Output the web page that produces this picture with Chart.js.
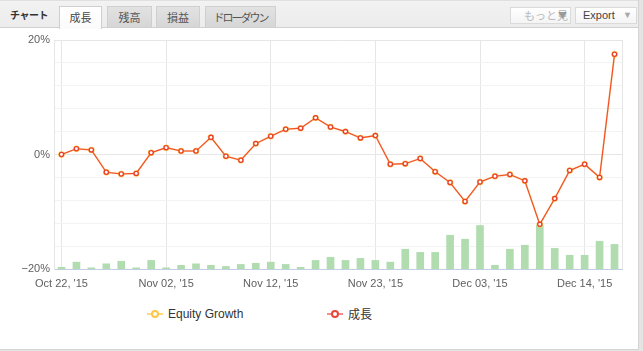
<!DOCTYPE html>
<html><head><meta charset="utf-8">
<script src="https://cdn.jsdelivr.net/npm/chart.js@4.4.1/dist/chart.umd.min.js"></script>
<style>
html,body{margin:0;padding:0;}
body{width:643px;height:351px;position:relative;overflow:hidden;background:#e4e4e4;font-family:"Liberation Sans",Arial,sans-serif;}
#frame{position:absolute;left:0;top:0;width:638px;height:349px;background:#fff;border-right:1px solid #d4d4d4;border-bottom:1px solid #d4d4d4;}
#head{position:absolute;left:0;top:0;width:638px;height:26px;background:linear-gradient(#f2f2f2,#ececec);border-top:1px solid #e0e0e0;border-bottom:1px solid #d0d0d0;}
.jp{font-family:"Noto Sans CJK JP","Noto Sans",sans-serif;}
#title{position:absolute;left:10px;top:6px;font-size:10px;font-weight:bold;color:#333;letter-spacing:-0.5px;line-height:16px;}
.tab{position:absolute;top:5px;height:21px;box-sizing:border-box;border:1px solid #cfcfcf;border-bottom:none;background:linear-gradient(#e2e2e2,#d6d6d6);color:#555;font-size:11px;line-height:20px;text-align:center;}
.tab.active{background:linear-gradient(#ffffff,#fbfbfb);height:23px;color:#444;}
.btn{position:absolute;top:6px;height:17px;box-sizing:border-box;border:1px solid #dadada;background:linear-gradient(#ffffff,#f4f4f4);font-size:11px;line-height:15px;}
#wrap{position:absolute;left:0;top:28px;width:638px;height:272px;}
.leg{position:absolute;top:306px;height:16px;font-size:12px;line-height:16px;color:#333;}
.lline{position:absolute;top:7px;width:16px;height:2px;}
.ldot{position:absolute;top:4px;width:4px;height:4px;border-radius:50%;background:#fff;border:2px solid;}
</style></head>
<body>
<div id="frame">
  <div id="head">
    <div id="title" class="jp">チャート</div>
    <div class="tab active jp" style="left:59px;width:43px;">成長</div>
    <div class="tab jp" style="left:107px;width:45px;">残高</div>
    <div class="tab jp" style="left:156px;width:44px;">損益</div>
    <div class="tab jp" style="left:205px;width:71px;letter-spacing:-2px;">ドローダウン</div>
    <div class="btn jp" style="left:510px;width:61px;color:#b8b8b8;padding-left:13px;">もっと見<span style="position:absolute;left:47px;top:0;color:#9a9a9a;font-size:9px;">▼</span></div>
    <div class="btn" style="left:575px;width:62px;color:#444;padding-left:7px;">Export<span style="position:absolute;left:47px;top:0;color:#a8a8a8;font-size:9px;">▼</span></div>
  </div>
  <div id="wrap"><canvas id="c" width="638" height="272"></canvas></div>
  <div class="leg" style="left:147px;width:110px;">
    <div class="lline" style="left:0;background:#ffd97a;"></div>
    <div class="ldot" style="left:4px;border-color:#ffc64a;"></div>
    <span style="position:absolute;left:21px;">Equity Growth</span>
  </div>
  <div class="leg" style="left:327px;width:60px;">
    <div class="lline" style="left:0;background:#f48c8c;"></div>
    <div class="ldot" style="left:4px;border-color:#e8463a;"></div>
    <span class="jp" style="position:absolute;left:21px;">成長</span>
  </div>
</div>
<script>
const dates = ["Oct 22, '15","Oct 23, '15","Oct 26, '15","Oct 27, '15","Oct 28, '15","Oct 29, '15","Oct 30, '15",
  "Nov 02, '15","Nov 03, '15","Nov 04, '15","Nov 05, '15","Nov 06, '15","Nov 09, '15","Nov 10, '15",
  "Nov 12, '15","Nov 13, '15","Nov 16, '15","Nov 17, '15","Nov 18, '15","Nov 19, '15","Nov 20, '15",
  "Nov 23, '15","Nov 24, '15","Nov 25, '15","Nov 26, '15","Nov 27, '15","Nov 30, '15","Dec 01, '15",
  "Dec 03, '15","Dec 04, '15","Dec 07, '15","Dec 08, '15","Dec 09, '15","Dec 10, '15","Dec 11, '15",
  "Dec 14, '15","Dec 15, '15","Dec 16, '15"];
const tickDates = ["Oct 22, '15","Nov 02, '15","Nov 12, '15","Nov 23, '15","Dec 03, '15","Dec 14, '15"];
const growth = [0.0,1.0,0.8,-3.1,-3.4,-3.3,0.3,1.2,0.6,0.6,3.0,-0.3,-1.0,1.9,3.2,4.4,4.6,6.4,4.8,4.0,2.9,3.3,
  -1.7,-1.6,-0.7,-3.0,-4.9,-8.2,-4.8,-3.8,-3.5,-4.6,-12.2,-7.7,-2.8,-1.7,-4.0,17.5];
const equityGrowth = [0.0,1.0,0.8,-3.1,-3.4,-3.3,0.3,1.2,0.6,0.6,3.0,-0.3,-1.0,1.9,3.2,4.4,4.6,6.4,4.8,4.0,2.9,3.3,
  -1.7,-1.6,-0.7,-3.0,-4.9,-8.2,-4.8,-3.8,-3.5,-4.6,-12.2,-7.7,-2.8,-1.7,-4.0,17.5];
const volume = [0.3,1.2,0.2,0.9,1.35,0.2,1.5,0.2,0.65,0.9,0.65,0.45,0.8,1.0,1.2,0.8,0.3,1.5,2.05,1.5,1.85,1.5,1.2,
  3.45,2.9,2.9,5.9,5.2,7.6,0.65,3.45,4.15,7.6,3.6,2.4,2.4,4.85,4.3];
const yMin = -20, yMax = 20, yMajor = 10, yMinor = 2;
const volumeMax = 40;

const font = {family:"'Liberation Sans', Arial, sans-serif", size:11};
const frameLine = {
  id:'frameLine',
  beforeDatasetsDraw(chart){
    const a = chart.chartArea, ctx = chart.ctx;
    ctx.save(); ctx.strokeStyle = '#e6e6e6'; ctx.lineWidth = 1;
    ctx.beginPath(); ctx.moveTo(Math.round(a.right)+0.5, a.top); ctx.lineTo(Math.round(a.right)+0.5, a.bottom); ctx.stroke();
    ctx.restore();
  }
};
new Chart(document.getElementById('c'), {
  type:'bar',
  data:{
    labels: dates,
    datasets:[
      {type:'line', label:'成長', data:growth, yAxisID:'y', order:1, tension:0,
        borderColor:'#ef4e22', borderWidth:1.1, pointRadius:2.1, pointBorderWidth:1.3,
        pointBackgroundColor:'#ffffff', pointBorderColor:'#e8402c'},
      {type:'line', label:'Equity Growth', data:equityGrowth, yAxisID:'y', order:2, tension:0,
        borderColor:'rgba(255,160,70,0.55)', borderWidth:1.8, pointRadius:3.2, pointBorderWidth:0,
        pointBackgroundColor:'#ffc646'},
      {type:'bar', label:'volume', data:volume, yAxisID:'y2', order:3,
        backgroundColor:'#b0dcb0', barThickness:7}
    ]
  },
  options:{
    responsive:false, animation:false,
    layout:{padding:{top:12, right:16, left:0, bottom:0}},
    plugins:{legend:{display:false}, tooltip:{enabled:false}},
    scales:{
      x:{offset:true,
        grid:{offset:false, drawTicks:false, lineWidth:1,
          color:(c)=> (c.index % 7 === 0) ? '#e6e6e6' : 'rgba(0,0,0,0)'},
        border:{color:'#c0d0e0'},
        ticks:{autoSkip:false, maxRotation:0, padding:8, color:'#606060', font,
          callback:(v,i)=> (i % 7 === 0) ? tickDates[i/7] : ''},
        afterFit:(s)=>{ s.height = 31; }
      },
      y:{min:yMin, max:yMax, position:'left',
        grid:{drawTicks:false, color:(c)=> (c.tick.value % yMajor === 0) ? '#e6e6e6' : '#f3f3f3'},
        border:{color:'#e6e6e6'},
        ticks:{stepSize:yMinor, padding:4, color:'#606060', font,
          callback:(v)=> (v % yMajor === 0) ? (v < 0 ? '\u2212' + Math.abs(v) : v) + '%' : ''},
        afterFit:(s)=>{ s.width = 54; }
      },
      y2:{display:false, min:0, max:volumeMax}
    }
  },
  plugins:[frameLine]
});
</script>
</body></html>
